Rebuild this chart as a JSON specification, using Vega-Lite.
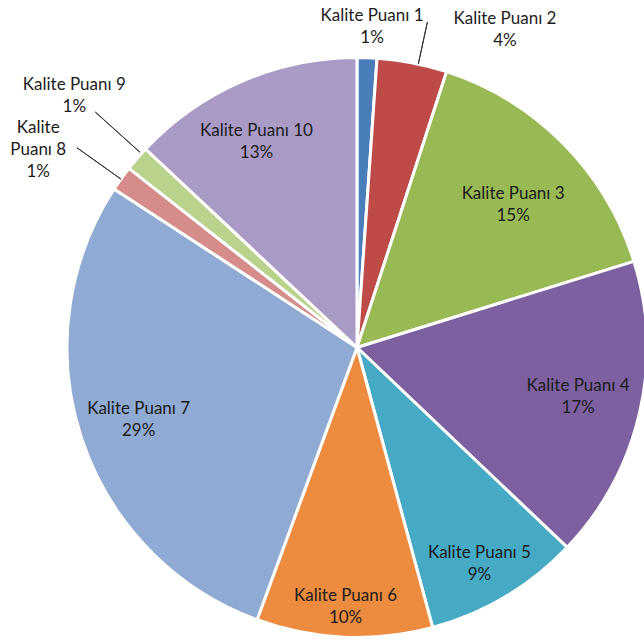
{
  "$schema": "https://vega.github.io/schema/vega-lite/v6.json",
  "autosize": {"type": "none"},
  "padding": {"left": 70, "top": 56, "right": 0, "bottom": 0},
  "width": 574,
  "height": 583,
  "background": "white",
  "config": {"view": {"stroke": null}, "text": {"font": "Lato", "fontSize": 17, "lineHeight": 22, "lineBreak": "\n", "color": "#1c1c1c", "align": "center", "baseline": "middle"}},
  "data": {"values": [
    {"idx": 1, "name": "Kalite Puanı 1", "value": 1.1, "label": "Kalite Puanı 1\n1%"},
    {"idx": 2, "name": "Kalite Puanı 2", "value": 3.9, "label": "Kalite Puanı 2\n4%"},
    {"idx": 3, "name": "Kalite Puanı 3", "value": 15.2, "label": "Kalite Puanı 3\n15%"},
    {"idx": 4, "name": "Kalite Puanı 4", "value": 16.9, "label": "Kalite Puanı 4\n17%"},
    {"idx": 5, "name": "Kalite Puanı 5", "value": 8.7, "label": "Kalite Puanı 5\n9%"},
    {"idx": 6, "name": "Kalite Puanı 6", "value": 9.8, "label": "Kalite Puanı 6\n10%"},
    {"idx": 7, "name": "Kalite Puanı 7", "value": 28.6, "label": "Kalite Puanı 7\n29%"},
    {"idx": 8, "name": "Kalite Puanı 8", "value": 1.4, "label": "Kalite\nPuanı 8\n1%"},
    {"idx": 9, "name": "Kalite Puanı 9", "value": 1.4, "label": "Kalite Puanı 9\n1%"},
    {"idx": 10, "name": "Kalite Puanı 10", "value": 13.0, "label": "Kalite Puanı 10\n13%"}
  ]},
  "layer": [
    {
      "mark": {"type": "arc", "outerRadius": 290, "stroke": "white", "strokeWidth": 3},
      "encoding": {
        "theta": {"field": "value", "type": "quantitative", "stack": true},
        "order": {"field": "idx", "type": "quantitative"},
        "color": {"field": "name", "type": "nominal", "legend": null,
          "scale": {
            "domain": ["Kalite Puanı 1","Kalite Puanı 2","Kalite Puanı 3","Kalite Puanı 4","Kalite Puanı 5","Kalite Puanı 6","Kalite Puanı 7","Kalite Puanı 8","Kalite Puanı 9","Kalite Puanı 10"],
            "range": ["#4A7EBB","#BE4B48","#98B954","#7D60A0","#46AAC5","#ED8B3E","#8FAAD3","#D68C8A","#B9D28C","#A99BC6"]
          }}
      }
    },
    {"transform": [{"filter": "datum.idx === 2"}], "mark": {"type": "arc", "theta": 0.213, "theta2": 0.213, "radius": 333, "radius2": 290, "stroke": "#333333", "strokeWidth": 1, "fill": null}, "encoding": {}},
    {"transform": [{"filter": "datum.idx === 9"}], "mark": {"type": "arc", "theta": 5.445, "theta2": 5.445, "radius": 352, "radius2": 292, "stroke": "#333333", "strokeWidth": 1, "fill": null}, "encoding": {}},
    {"transform": [{"filter": "datum.idx === 8"}], "mark": {"type": "arc", "theta": 5.332, "theta2": 5.332, "radius": 344, "radius2": 290, "stroke": "#333333", "strokeWidth": 1, "fill": null}, "encoding": {}},
    {
      "mark": {"type": "text", "radius": 321, "dx": 4, "dy": -11},
      "encoding": {"theta": {"field": "value", "type": "quantitative", "stack": true}, "order": {"field": "idx", "type": "quantitative"}, "detail": {"field": "name", "type": "nominal"},
        "text": {"condition": {"test": "datum.idx === 1", "field": "label"}, "value": ""}}
    },
    {
      "mark": {"type": "text", "radius": 320, "dx": 87, "dy": -14},
      "encoding": {"theta": {"field": "value", "type": "quantitative", "stack": true}, "order": {"field": "idx", "type": "quantitative"}, "detail": {"field": "name", "type": "nominal"},
        "text": {"condition": {"test": "datum.idx === 2", "field": "label"}, "value": ""}}
    },
    {
      "mark": {"type": "text", "radius": 211, "dx": 6, "dy": -5},
      "encoding": {"theta": {"field": "value", "type": "quantitative", "stack": true}, "order": {"field": "idx", "type": "quantitative"}, "detail": {"field": "name", "type": "nominal"},
        "text": {"condition": {"test": "datum.idx === 3", "field": "label"}, "value": ""}}
    },
    {
      "mark": {"type": "text", "radius": 227, "dx": 0, "dy": -13},
      "encoding": {"theta": {"field": "value", "type": "quantitative", "stack": true}, "order": {"field": "idx", "type": "quantitative"}, "detail": {"field": "name", "type": "nominal"},
        "text": {"condition": {"test": "datum.idx === 4", "field": "label"}, "value": ""}}
    },
    {
      "mark": {"type": "text", "radius": 249, "dx": -5, "dy": -8},
      "encoding": {"theta": {"field": "value", "type": "quantitative", "stack": true}, "order": {"field": "idx", "type": "quantitative"}, "detail": {"field": "name", "type": "nominal"},
        "text": {"condition": {"test": "datum.idx === 5", "field": "label"}, "value": ""}}
    },
    {
      "mark": {"type": "text", "radius": 260, "dx": 0, "dy": -11},
      "encoding": {"theta": {"field": "value", "type": "quantitative", "stack": true}, "order": {"field": "idx", "type": "quantitative"}, "detail": {"field": "name", "type": "nominal"},
        "text": {"condition": {"test": "datum.idx === 6", "field": "label"}, "value": ""}}
    },
    {
      "mark": {"type": "text", "radius": 229, "dx": -1, "dy": -11},
      "encoding": {"theta": {"field": "value", "type": "quantitative", "stack": true}, "order": {"field": "idx", "type": "quantitative"}, "detail": {"field": "name", "type": "nominal"},
        "text": {"condition": {"test": "datum.idx === 7", "field": "label"}, "value": ""}}
    },
    {
      "mark": {"type": "text", "radius": 375, "dx": -14, "dy": -1},
      "encoding": {"theta": {"field": "value", "type": "quantitative", "stack": true}, "order": {"field": "idx", "type": "quantitative"}, "detail": {"field": "name", "type": "nominal"},
        "text": {"condition": {"test": "datum.idx === 8", "field": "label"}, "value": ""}}
    },
    {
      "mark": {"type": "text", "radius": 378, "dx": 4, "dy": -16},
      "encoding": {"theta": {"field": "value", "type": "quantitative", "stack": true}, "order": {"field": "idx", "type": "quantitative"}, "detail": {"field": "name", "type": "nominal"},
        "text": {"condition": {"test": "datum.idx === 9", "field": "label"}, "value": ""}}
    },
    {
      "mark": {"type": "text", "radius": 228, "dx": -10, "dy": -7},
      "encoding": {"theta": {"field": "value", "type": "quantitative", "stack": true}, "order": {"field": "idx", "type": "quantitative"}, "detail": {"field": "name", "type": "nominal"},
        "text": {"condition": {"test": "datum.idx === 10", "field": "label"}, "value": ""}}
    }
  ]
}
